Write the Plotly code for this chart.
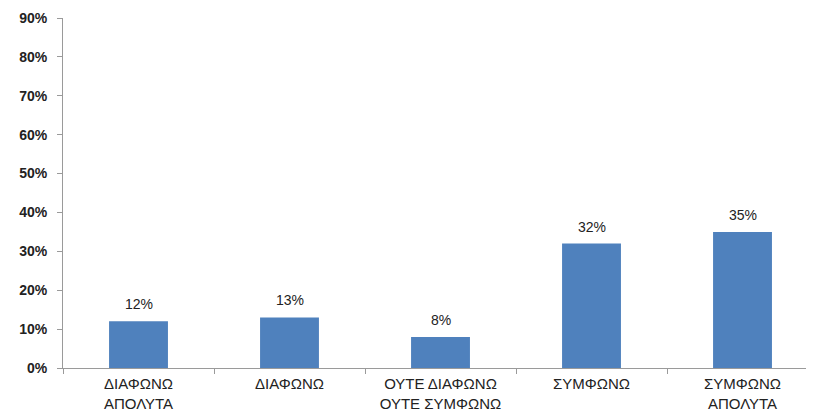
import plotly.graph_objects as go

categories = ["ΔΙΑΦΩΝΩ<br>ΑΠΟΛΥΤΑ", "ΔΙΑΦΩΝΩ", "ΟΥΤΕ ΔΙΑΦΩΝΩ<br>ΟΥΤΕ ΣΥΜΦΩΝΩ", "ΣΥΜΦΩΝΩ", "ΣΥΜΦΩΝΩ<br>ΑΠΟΛΥΤΑ"]
values = [0.12, 0.13, 0.08, 0.32, 0.35]
labels = ["12%", "13%", "8%", "32%", "35%"]
ytick_vals = [0, 0.1, 0.2, 0.3, 0.4, 0.5, 0.6, 0.7, 0.8, 0.9]
ytick_text = ["0%", "10%", "20%", "30%", "40%", "50%", "60%", "70%", "80%", "90%"]

FONT = "Liberation Sans, Arial, sans-serif"

fig = go.Figure(go.Bar(
    x=categories, y=values,
    marker=dict(color="#4F81BD", line=dict(width=0)),
))

for c, v, t in zip(categories, values, labels):
    fig.add_annotation(x=c, y=v, text=t, showarrow=False, yanchor="bottom",
                       yshift=7, font=dict(family=FONT, size=14, color="#222222"))

fig.update_layout(
    width=814, height=419,
    margin=dict(l=55, r=4, t=10, b=59),
    paper_bgcolor="white", plot_bgcolor="white",
    bargap=0.61, showlegend=False,
    font=dict(family=FONT, size=14, color="#222222"),
)
fig.update_xaxes(
    range=[-0.5, 4.5], showline=True, linecolor="#9a9a9a", linewidth=1,
    ticks="outside", tickson="boundaries", ticklen=5, tickcolor="#9a9a9a",
    showgrid=False, automargin=False, ticklabelstandoff=2,
    tickfont=dict(family=FONT, size=15, color="#222222"),
)
fig.update_yaxes(
    range=[0, 0.9], tickvals=ytick_vals, ticktext=ytick_text,
    showline=True, linecolor="#9a9a9a", linewidth=1,
    ticks="outside", ticklen=5, tickcolor="#9a9a9a",
    showgrid=False, zeroline=False, automargin=False, ticklabelstandoff=7,
    tickfont=dict(family=FONT, size=14, color="#222222", weight="bold"),
)

fig.write_html("out.html")
